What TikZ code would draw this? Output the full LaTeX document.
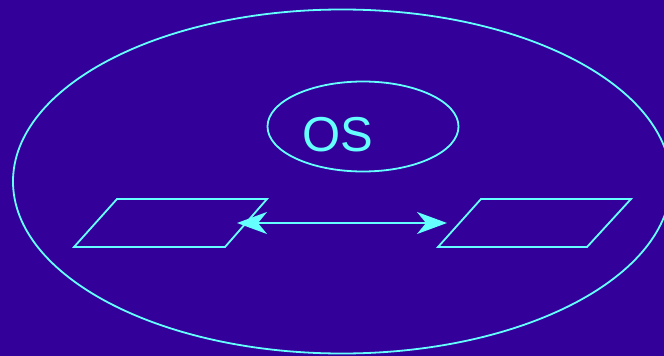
\documentclass[tikz,border=0pt]{standalone}
\usepackage{fontspec}
\setmainfont{Liberation Sans}
\usetikzlibrary{shapes.geometric,arrows.meta}
\definecolor{bgblue}{HTML}{330099}
\definecolor{linecyan}{HTML}{66FFFF}
\tikzset{
  outline/.style={draw=linecyan, line width=1.8pt},
  ring/.style={outline, ellipse, inner sep=0pt},
  plate/.style={outline, line join=miter},
  link/.style={draw=linecyan, line width=1.8pt, {Stealth[length=30pt,width=22pt,inset=9pt]}-{Stealth[length=30pt,width=22pt,inset=9pt]}}
}
\begin{document}
\begin{tikzpicture}[x=1pt,y=-1pt]
  \useasboundingbox (0,0) rectangle (664,356);
  \fill[bgblue] (0,0) rectangle (664,356);
  \node[ring, minimum width=658pt, minimum height=344pt] (world) at (342,181.5) {};
  \node[ring, minimum width=191pt, minimum height=90pt] (os) at (363,126.5) {};
  \node[text=linecyan, font=\fontsize{49}{49}\selectfont, inner sep=0pt] (oslabel) at (338,135) {OS};
  \draw[plate] (74,247) coordinate (la) -- (117,199) coordinate (lb) -- (267,199) coordinate (lc) -- (225,247) coordinate (ld) -- cycle;
  \draw[plate] (438,247) coordinate (ra) -- (481,199) coordinate (rb) -- (631,199) coordinate (rc) -- (587,247) coordinate (rd) -- cycle;
  \coordinate (leftend) at (237,223);
  \coordinate (rightend) at (447,223);
  \draw[link] (leftend) -- (rightend);
\end{tikzpicture}
\end{document}
